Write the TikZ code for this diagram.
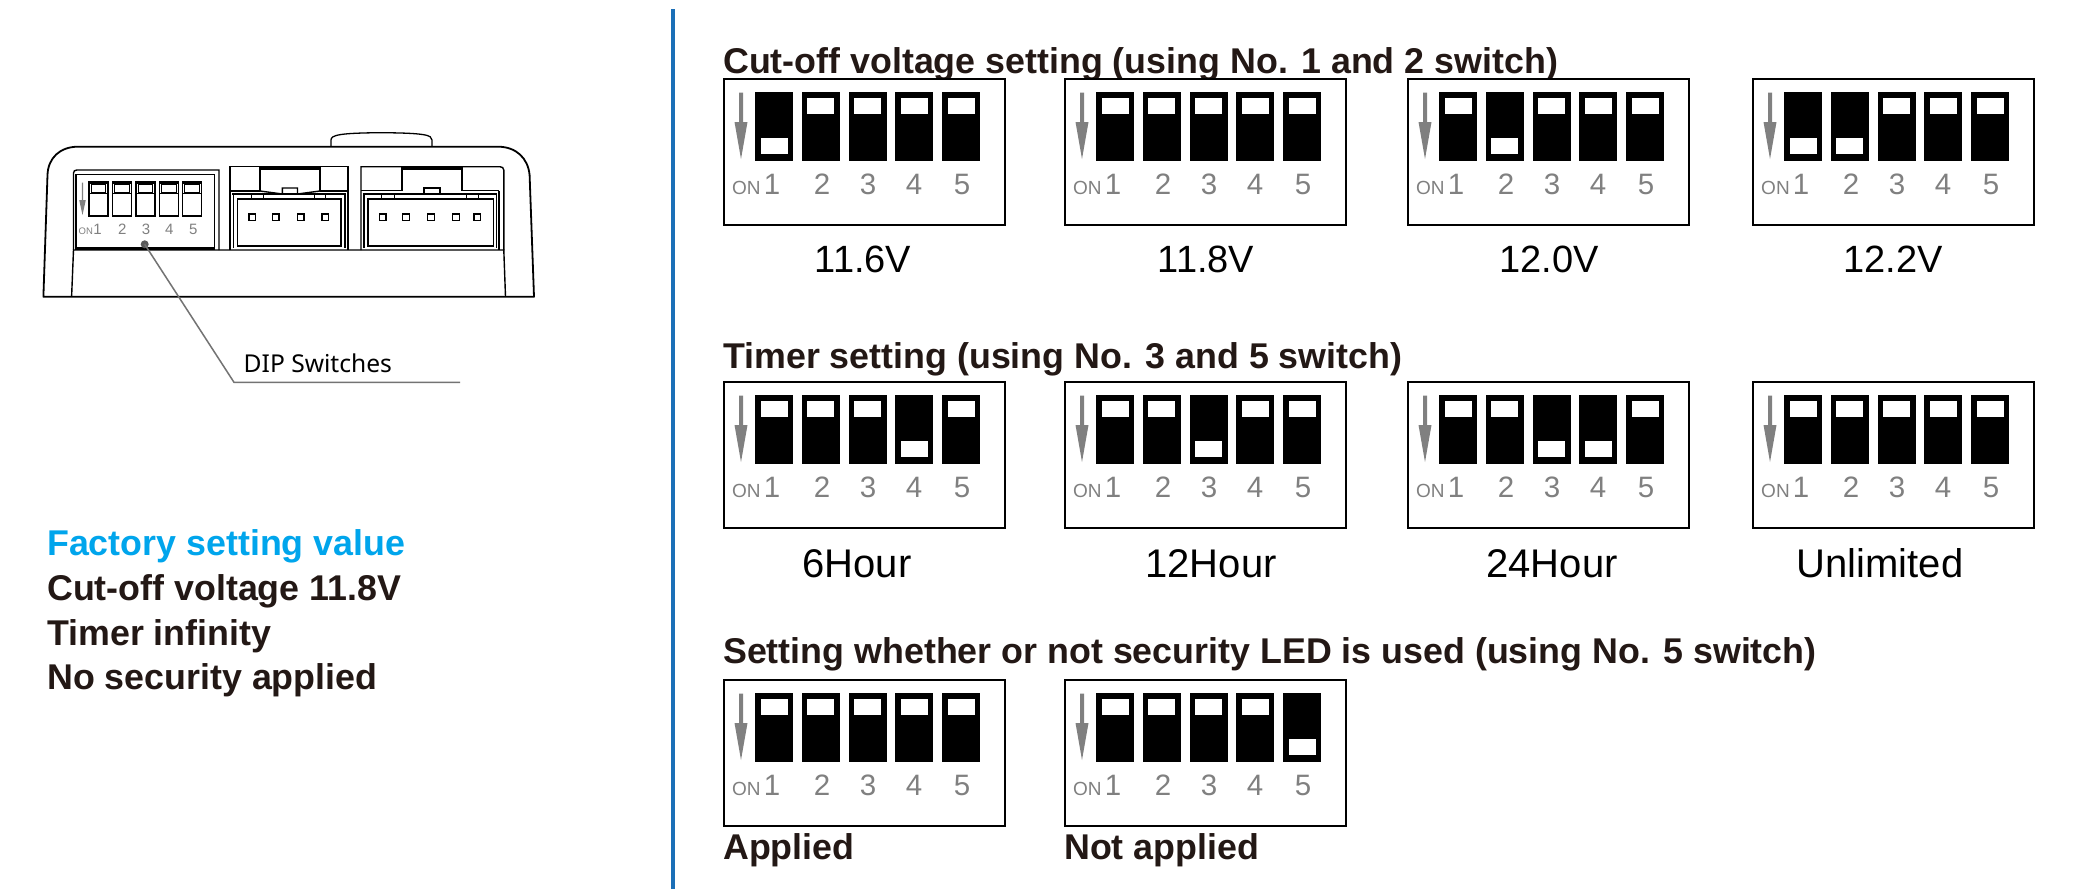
\documentclass[tikz,border=0pt]{standalone}
\usepackage{fontspec}
\setmainfont{Liberation Sans}
\newfontfamily\dipfont{Noto Sans}
\definecolor{ink}{HTML}{231815}
\definecolor{grayk}{HTML}{808080}
\definecolor{skyb}{HTML}{00A5EC}
\definecolor{rule}{HTML}{1B6FB7}
\newcommand{\sz}[1]{\fontsize{#1}{#1}\selectfont}
\tikzset{
  x=1pt,y=-1pt,
  heading/.style={anchor=base west,inner sep=0pt,text=ink,font=\sz{35.8}\bfseries},
  lefttext/.style={anchor=base west,inner sep=0pt,text=ink,font=\sz{35.8}\bfseries},
  valuelabel/.style={anchor=base,inner sep=0pt,text=black,font=\sz{38}},
  hourlabel/.style={anchor=base,inner sep=0pt,text=black,font=\sz{40}},
  diglabel/.style={anchor=base,inner sep=0pt,text=grayk,font=\sz{29.5}},
  onlabel/.style={anchor=base west,inner sep=0pt,text=grayk,font=\sz{19}},
  smalldig/.style={anchor=base,inner sep=0pt,text=grayk,font=\sz{15}},
  smallon/.style={anchor=base west,inner sep=0pt,text=grayk,font=\sz{9.5}},
  panelbox/.style={draw=black,line width=1.6pt,fill=white},
  body/.style={draw=black,line width=1.8pt,line join=round},
  thin body/.style={draw=black,line width=1.4pt},
}
\newcommand{\dippanel}[4]{%
  \begin{scope}[shift={(#2,#3)}]
    \node[panelbox,rectangle,inner sep=0pt,minimum width=281pt,minimum height=146pt,anchor=north west] (#1) at (0,0) {};
    \fill[grayk] (16,14.5) -- (20,14.5) -- (20,44) -- (24.5,44) -- (18,81) -- (11.5,44) -- (16,44) -- cycle;
    \node[onlabel] (#1on) at (9,116) {ON};
    \foreach \s [count=\i] in {#4} {
      \pgfmathsetmacro{\xx}{32+46.75*(\i-1)}
      \fill[black] (\xx,13.5) rectangle ++(38,69);
      \ifnum\s=1
        \fill[white] (\xx+5.5,59.5) rectangle ++(27,16);
      \else
        \fill[white] (\xx+5.5,19.5) rectangle ++(27,16);
      \fi
    }
    \node[diglabel] (#1a) at (49,116) {1};
    \node[diglabel] (#1b) at (99,116) {2};
    \node[diglabel] (#1c) at (145,116) {3};
    \node[diglabel] (#1d) at (191,116) {4};
    \node[diglabel] (#1e) at (239,116) {5};
  \end{scope}
}
\begin{document}
\begin{tikzpicture}
\useasboundingbox (0,0) rectangle (2080,889);
\fill[white] (0,0) rectangle (2080,889);

% device outline
\draw[body] (43.4,296.7) -- (47.5,175) .. controls (48,158) and (60,146.7) .. (78,146.7) -- (498,146.7) .. controls (516,146.7) and (528,158) .. (529.6,175) -- (534,296.7) -- cycle;
\draw[body,line width=1.3pt] (331,146.7) -- (331,140) .. controls (331,135) and (340,133) .. (381,132.7) .. controls (425,133) and (432,135) .. (432,140) -- (432,146.7);
% lower inner
\draw[thin body] (71.6,296.7) -- (73.5,250) -- (503.8,250) -- (505.5,296.7);
% DIP housing
\draw[thin body] (73.5,250) -- (73.5,173) .. controls (73.5,171) and (75,170) .. (77,170) -- (219,170) -- (219,250);
\draw[thin body] (76,250) -- (76,174.5) -- (214.5,174.5) -- (214.5,250);
\draw[black,line width=2.4pt] (76,248.5) -- (214.5,248.5);
% DIP switches
\foreach \xx in {89,112.3,136,159.4,182.5} {
  \draw[black,line width=1.5pt] (\xx,182) rectangle ++(19,34);
  \fill[black] (\xx,182) rectangle ++(19,2.2);
  \draw[black,line width=1.2pt] (\xx+2.2,184) rectangle ++(14.6,9);
  \draw[black,line width=.6pt] (\xx,193) -- ++(19,0);
}
\fill[grayk] (81.8,182.7) -- (83.2,182.7) -- (83.2,200) -- (85.8,200) -- (82.5,215) -- (79.2,200) -- (81.8,200) -- cycle;
\node[smallon] (devon) at (78.5,234) {ON};
\node[smalldig] (dev1) at (97.5,234) {1};
\node[smalldig] (dev2) at (122.3,234) {2};
\node[smalldig] (dev3) at (146,234) {3};
\node[smalldig] (dev4) at (169.2,234) {4};
\node[smalldig] (dev5) at (193.2,234) {5};

% left connector
\draw[thin body] (230,250) -- (230,166.7) -- (348,166.7) -- (348,250);
\draw[black,line width=2.4pt] (260,168.6) -- (320,168.6);
\draw[thin body] (260,167) -- (260,191) (320,167) -- (320,191);
\draw[black,line width=1.6pt] (230,191) -- (260,191) (320,191) -- (348,191);
\draw[thin body] (260,191) -- (282.4,194) (282.4,194) rectangle (297.5,188) (297.5,194) -- (320,191);
\draw[black,line width=1.4pt] (232,194) -- (346,194);
\draw[thin body] (233.5,194) -- (233.5,248) (345,194) -- (345,248);
\draw[black,line width=1.7pt] (237.6,198.7) rectangle (341,245.7);
\foreach \xx in {251.4,263.8,314.4,325.8} \draw[black,line width=.8pt] (\xx,194) -- (\xx,198.7);
\foreach \xx in {252.4,275.9,300.6,325.4} \draw[black,line width=1.5pt] (\xx-3.3,214) rectangle ++(6.6,6.6);

% right connector
\draw[thin body] (361,250) -- (361,166.7) -- (500,166.7) .. controls (502,166.7) and (503.8,168) .. (503.8,170) -- (503.8,250);
\draw[black,line width=2.4pt] (402,168.6) -- (462,168.6);
\draw[thin body] (402,167) -- (402,190.5) (462,167) -- (462,190.5);
\draw[black,line width=1.6pt] (361,190.5) -- (402,190.5) (462,190.5) -- (499,190.5);
\draw[black,line width=1.4pt] (363,194) -- (497,194);
\draw[thin body] (424,194) -- (424,188) -- (440,188) -- (440,194);
\draw[black,line width=1.8pt] (499,190.5) -- (499,250);
\draw[thin body] (364,194) -- (364,248) (496.5,194) -- (496.5,248);
\draw[black,line width=1.7pt] (368,198.7) rectangle (493.5,245.7);
\foreach \xx in {381.6,394.3,466.6,478} \draw[black,line width=.8pt] (\xx,194) -- (\xx,198.7);
\foreach \xx in {382.6,406,431,456,477.3} \draw[black,line width=1.5pt] (\xx-3.3,214) rectangle ++(6.6,6.6);

% leader
\node[circle,fill=grayk!70!black,inner sep=0pt,minimum size=8pt] (dot) at (144.7,244.3) {};
\coordinate (lknee) at (234,382.3);
\coordinate (lend) at (460,382.3);
\draw[grayk!90!black,line width=1.5pt] (dot.center) -- (lknee) -- (lend);
\node[anchor=base west,inner sep=0pt,text=black,font=\dipfont\sz{24.6}] (diplabel) at (243.5,372) {DIP Switches};

% left text
\node[lefttext,text=skyb] (fac) at (47,555.3) {Factory setting value};
\node[lefttext] (cut) at (47,600.3) {Cut-off voltage 11.8V};
\node[lefttext] (tim) at (47,645) {Timer infinity};
\node[lefttext] (sec) at (47,689.5) {No security applied};

% blue divider
\coordinate (rtop) at (673,9);
\coordinate (rbot) at (673,889);
\draw[rule,line width=3.6pt] (rtop) -- (rbot);

% headings
\node[heading] (h1) at (723,73.5) {Cut-off voltage setting (using No. 1 and 2 switch)};
\node[heading] (h2) at (723,368.5) {Timer setting (using No. 3 and 5 switch)};
\node[heading] (h3) at (723,663.5) {Setting whether or not security LED is used (using No. 5 switch)};

% row 1
\dippanel{pa}{723}{78}{1,0,0,0,0}
\dippanel{pb}{1064}{78}{0,0,0,0,0}
\dippanel{pc}{1407}{78}{0,1,0,0,0}
\dippanel{pd}{1752}{78}{1,1,0,0,0}
\node[valuelabel] (va) at (863,272) {11.6V};
\node[valuelabel] (vb) at (1206,272) {11.8V};
\node[valuelabel] (vc) at (1549,272) {12.0V};
\node[valuelabel] (vd) at (1893,272) {12.2V};
% row 2
\dippanel{qa}{723}{381}{0,0,0,1,0}
\dippanel{qb}{1064}{381}{0,0,1,0,0}
\dippanel{qc}{1407}{381}{0,0,1,1,0}
\dippanel{qd}{1752}{381}{0,0,0,0,0}
\node[hourlabel] (wa) at (857,577) {6Hour};
\node[hourlabel] (wb) at (1211,577) {12Hour};
\node[hourlabel] (wc) at (1552,577) {24Hour};
\node[hourlabel] (wd) at (1880,577) {Unlimited};
% row 3
\dippanel{ra}{723}{679}{0,0,0,0,0}
\dippanel{rb}{1064}{679}{0,0,0,0,1}
\node[heading] (xa) at (723,859.5) {Applied};
\node[heading] (xb) at (1064,859.5) {Not applied};
\end{tikzpicture}
\end{document}
